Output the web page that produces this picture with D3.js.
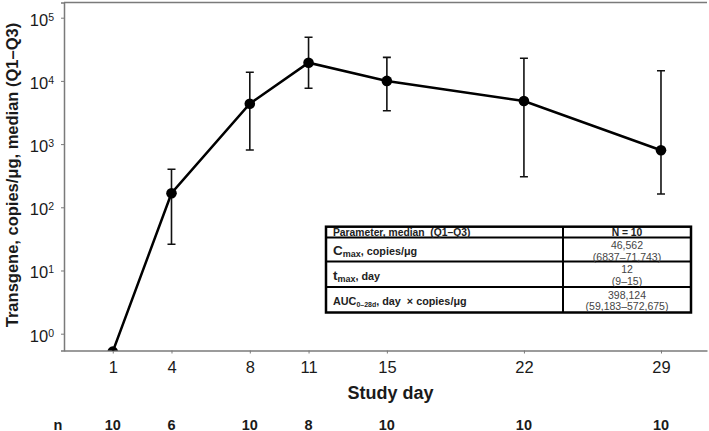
<!DOCTYPE html>
<html><head><meta charset="utf-8">
<script src="https://cdn.jsdelivr.net/npm/d3@7"></script>
<style>body{margin:0;background:#fff}svg{display:block;font-family:"Liberation Sans",Arial,sans-serif}</style>
</head><body><svg id="c" width="709" height="431"></svg>
<script>
const days=[1,4,8,11,15,22,29];
const medians=[0.52,167,4360,19400,10000,4810,798];
const q1=[null,26,807,7640,3370,305,162];
const q3=[null,399,13700,49000,23600,22800,14500];
const nCounts=[10,6,10,8,10,10,10];
const yTickExps=[0,1,2,3,4,5];
const tableHeader=["Parameter, median  (Q1–Q3)","N = 10"];
const paramMain=["C","t","AUC"];
const paramSub=["max","max","0–28d"];
const paramRest=[", copies/μg",", day",", day  × copies/μg"];
const valMedian=["46,562","12","398,124"];
const valRange=["(6837–71,743)","(9–15)","(59,183–572,675)"];

const svg=d3.select("#c");
const L=64,R=707,T=2.5,B=350.5;
const x=d3.scaleLinear().domain([-1.49,31.35]).range([L,R]);
const y=d3.scaleLog().domain([Math.pow(10,-0.266),Math.pow(10,5.2405)]).range([B,T]);
const axisCol="#7a7a7a";
const FF='"Liberation Sans",Arial,sans-serif';

svg.append("defs").append("clipPath").attr("id","clip").append("rect")
  .attr("x",L).attr("y",T).attr("width",R-L).attr("height",B-T);

// frame
svg.append("line").attr("x1",L).attr("x2",R).attr("y1",T).attr("y2",T).attr("stroke",axisCol).attr("stroke-width",1.5);

// y axis
const ya=svg.append("g").attr("transform",`translate(${L},0)`)
  .call(d3.axisLeft(y).tickValues(yTickExps.map(e=>Math.pow(10,e))).tickSize(3).tickFormat(""));
ya.select(".domain").attr("stroke",axisCol).attr("stroke-width",1.5);
ya.selectAll(".tick line").attr("stroke",axisCol);
ya.selectAll(".tick").each(function(d,i){
  const t=d3.select(this).append("text").attr("x",-10).attr("y",7.3).attr("text-anchor","end")
    .attr("fill","#1a1a1a").attr("font-size",16.5).attr("font-family",FF);
  t.append("tspan").text("10");
  t.append("tspan").attr("font-size",10.5).attr("dy",-5).text(yTickExps[i]);
});

// x axis
const xa=svg.append("g").attr("transform",`translate(0,${B})`)
  .call(d3.axisBottom(x).tickValues(days).tickSize(3).tickSizeOuter(0).tickFormat(""));
xa.select(".domain").attr("stroke",axisCol).attr("stroke-width",1.5);
xa.selectAll(".tick line").attr("stroke",axisCol);
xa.selectAll(".tick").append("text").attr("y",22.8).attr("text-anchor","middle")
  .attr("fill","#1a1a1a").attr("font-size",16.5).attr("font-family",FF)
  .text((d)=>d);

// axis titles
svg.append("text").attr("transform","translate(17.5,175) rotate(-90)").attr("text-anchor","middle")
  .attr("font-weight","bold").attr("font-size",16.5).attr("fill","#1a1a1a")
  .text("Transgene, copies/μg, median (Q1–Q3)");
svg.append("text").attr("x",(L+R)/2+5).attr("y",399).attr("text-anchor","middle")
  .attr("font-weight","bold").attr("font-size",18).attr("fill","#1a1a1a").text("Study day");

// n row
svg.append("text").attr("x",58).attr("y",429.5).attr("text-anchor","middle")
  .attr("font-weight","bold").attr("font-size",14.5).attr("fill","#1a1a1a").text("n");
svg.selectAll(".nval").data(days).join("text").attr("class","nval")
  .attr("x",d=>x(d)).attr("y",429.5).attr("text-anchor","middle")
  .attr("font-weight","bold").attr("font-size",14.5).attr("fill","#1a1a1a")
  .text((d,i)=>nCounts[i]);

// data
const plot=svg.append("g").attr("clip-path","url(#clip)");
const pts=days.map((d,i)=>({d,m:medians[i],lo:q1[i],hi:q3[i]}));
plot.append("path").datum(pts).attr("fill","none").attr("stroke","#000").attr("stroke-width",2.5)
  .attr("d",d3.line().x(p=>x(p.d)).y(p=>y(p.m)));
const eb=plot.selectAll(".eb").data(pts.filter(p=>p.lo!=null)).join("g").attr("class","eb")
  .attr("stroke","#111").attr("stroke-width",1.6);
eb.append("line").attr("x1",p=>x(p.d)).attr("x2",p=>x(p.d)).attr("y1",p=>y(p.lo)).attr("y2",p=>y(p.hi));
eb.append("line").attr("x1",p=>x(p.d)-4).attr("x2",p=>x(p.d)+4).attr("y1",p=>y(p.lo)).attr("y2",p=>y(p.lo));
eb.append("line").attr("x1",p=>x(p.d)-4).attr("x2",p=>x(p.d)+4).attr("y1",p=>y(p.hi)).attr("y2",p=>y(p.hi));
plot.selectAll(".pt").data(pts).join("circle").attr("class","pt")
  .attr("cx",p=>x(p.d)).attr("cy",p=>y(p.m)).attr("r",5.3).attr("fill","#000");

// table
const tb=svg.append("g");
const tL=326,tR=691,tC=563,rows=[226.7,237.5,261.5,287,312.5];
tb.append("rect").attr("x",tL).attr("y",rows[0]).attr("width",tR-tL).attr("height",rows[4]-rows[0])
  .attr("fill","#fff").attr("stroke","#000").attr("stroke-width",2.5);
[1,2,3].forEach(k=>tb.append("line").attr("x1",tL).attr("x2",tR).attr("y1",rows[k]).attr("y2",rows[k])
  .attr("stroke","#000").attr("stroke-width",2));
tb.append("line").attr("x1",tC).attr("x2",tC).attr("y1",rows[0]).attr("y2",rows[4]).attr("stroke","#000").attr("stroke-width",2);
const cc=(tC+tR)/2;
tb.append("text").attr("x",333).attr("y",235.5).attr("font-weight","bold").attr("font-size",10.3).attr("fill","#222")
  .attr("xml:space","preserve").text(tableHeader[0]);
tb.append("text").attr("x",cc).attr("y",235.5).attr("text-anchor","middle").attr("font-weight","bold").attr("font-size",10.3).attr("fill","#222").text(tableHeader[1]);
const mainSize=[13.5,13.5,10.8],subSize=[9,9,7],baseY=[254.5,280,305];
paramMain.forEach((m,i)=>{
  const t=tb.append("text").attr("x",333).attr("y",baseY[i]).attr("font-weight","bold").attr("fill","#222").attr("xml:space","preserve");
  t.append("tspan").attr("font-size",mainSize[i]).text(m);
  t.append("tspan").attr("font-size",subSize[i]).attr("dy",2).text(paramSub[i]);
  t.append("tspan").attr("font-size",10.8).attr("dy",-2).text(paramRest[i]);
  tb.append("text").attr("x",cc).attr("y",rows[i+1]+11.5).attr("text-anchor","middle").attr("font-size",10.5).attr("fill","#444").text(valMedian[i]);
  tb.append("text").attr("x",cc).attr("y",rows[i+1]+23.2).attr("text-anchor","middle").attr("font-size",10.5).attr("fill","#444").text(valRange[i]);
});
</script></body></html>
